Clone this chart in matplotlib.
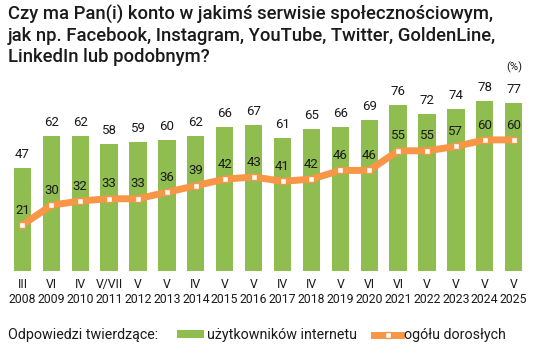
import matplotlib
matplotlib.use('Agg')
from matplotlib import pyplot as plt
from matplotlib.lines import Line2D
from matplotlib.patches import Patch

plt.rcParams['font.family'] = ['Roboto', 'DejaVu Sans']

months = ['III', 'VI', 'IV', 'V/VII', 'V', 'V', 'IV', 'V', 'V',
          'IV', 'IV', 'V', 'VI', 'VI', 'V', 'V', 'V', 'V']
years = ['2008', '2009', '2010', '2011', '2012', '2013', '2014', '2015', '2016',
         '2017', '2018', '2019', '2020', '2021', '2022', '2023', '2024', '2025']
internet_users = [47, 62, 62, 58, 59, 60, 62, 66, 67, 61, 65, 66, 69, 76, 72, 74, 78, 77]
all_adults = [21, 30, 32, 33, 33, 36, 39, 42, 43, 41, 42, 46, 46, 55, 55, 57, 60, 60]

green = '#8fbd4f'
orange = '#f79646'
txt = '#1a1a1a'

fig = plt.figure(figsize=(5.34, 3.52), dpi=100)
ax = fig.add_axes([0.015, 0.231, 0.974, 0.5264])

x = list(range(len(years)))
ax.bar(x, internet_users, width=0.6, color=green, zorder=1)
ax.plot(x, all_adults, color=orange, lw=5, solid_capstyle='round', zorder=2,
        marker='s', markersize=5, markerfacecolor='white', markeredgecolor=orange,
        markeredgewidth=1)

for i in x:
    ax.annotate(str(internet_users[i]), (i, internet_users[i]), xytext=(0, 5),
                textcoords='offset points', ha='center', va='bottom',
                fontsize=9.5, color=txt)
    ax.annotate(str(all_adults[i]), (i, all_adults[i]), xytext=(0, 6),
                textcoords='offset points', ha='center', va='bottom',
                fontsize=9.5, color=txt)

ax.set_xlim(-0.5, len(years) - 0.5)
ax.set_ylim(0, 85)
ax.set_xticks(x)
ax.set_xticklabels([m + '\n' + y for m, y in zip(months, years)], fontsize=8.8,
                   color=txt, linespacing=1.25)
ax.tick_params(length=0, pad=5)
ax.set_yticks([])
for s in ax.spines.values():
    s.set_visible(False)

fig.text(0.015, 0.985,
         'Czy ma Pan(i) konto w jakimś serwisie społecznościowym,\n'
         'jak np. Facebook, Instagram, YouTube, Twitter, GoldenLine,\n'
         'LinkedIn lub podobnym?',
         ha='left', va='top', fontsize=13.3, fontweight='medium', color=txt,
         linespacing=1.2)
fig.text(0.963, 0.81, '(%)', ha='center', va='center', fontsize=8, color=txt)

fig.text(0.015, 0.048, 'Odpowiedzi twierdzące:', ha='left', va='center',
         fontsize=10.3, color=txt)
handles = [Patch(facecolor=green, edgecolor='none'),
           Line2D([], [], color=orange, lw=5, marker='s', markersize=5,
                  markerfacecolor='white', markeredgecolor=orange)]
fig.legend(handles, ['użytkowników internetu', 'ogółu dorosłych'],
           loc='center left', bbox_to_anchor=(0.3315, 0.048), ncol=2, frameon=False,
           fontsize=10.3, handlelength=1.9, handleheight=0.5, handletextpad=0.2,
           columnspacing=1.2, labelcolor=txt, borderaxespad=0, borderpad=0)

fig.savefig('out.png', dpi=100)
